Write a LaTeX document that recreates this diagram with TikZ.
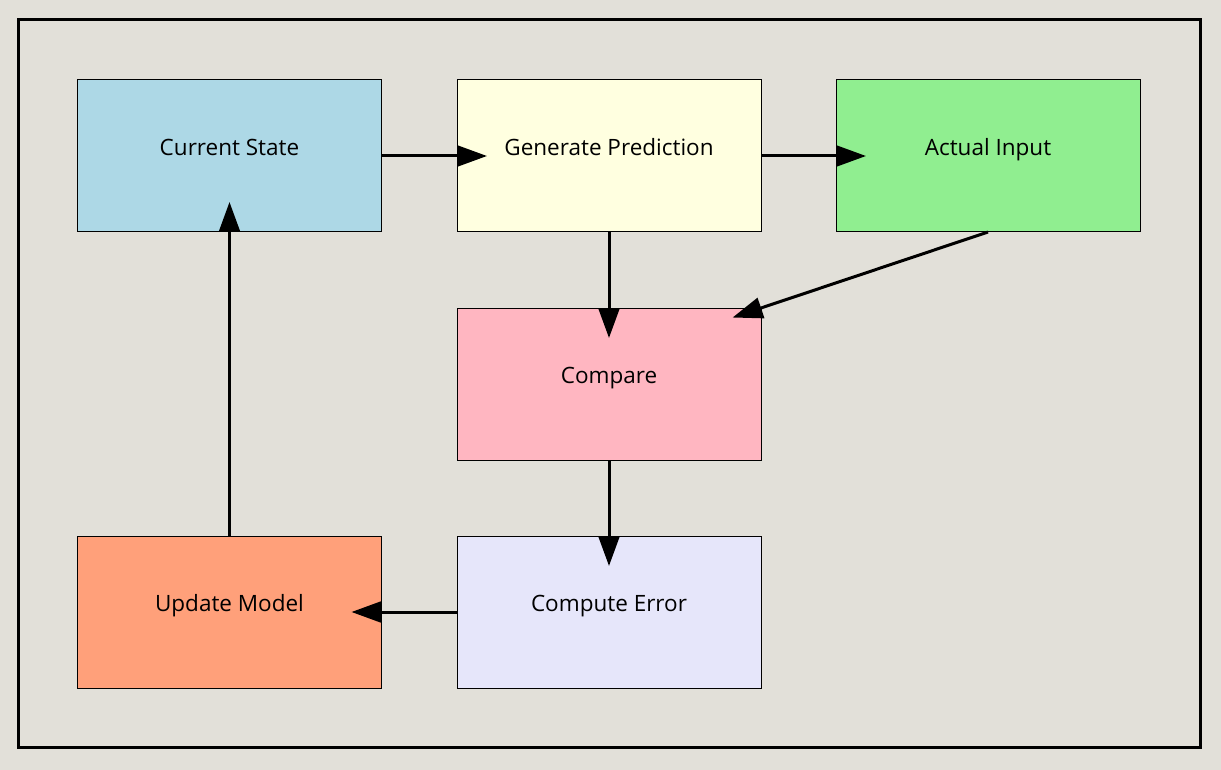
\documentclass[tikz,border=0pt]{standalone}
\usepackage{fontspec}
\setmainfont{Open Sans}
\usetikzlibrary{arrows.meta}
\definecolor{bg}{RGB}{226,224,217}
\definecolor{cstate}{HTML}{ADD8E6}
\definecolor{gpred}{HTML}{FFFFE0}
\definecolor{ainput}{HTML}{90EE90}
\definecolor{cmp}{HTML}{FFB6C1}
\definecolor{cerr}{HTML}{E6E6FA}
\definecolor{umodel}{HTML}{FFA07A}
\tikzset{
  box/.style={draw=black, line width=1pt, minimum width=304pt, minimum height=152pt, inner sep=0pt, outer sep=0pt},
  lbl/.style={font=\fontsize{22.5}{27}\selectfont, inner sep=0pt, anchor=base},
  conn/.style={line width=3pt, -{Triangle[length=30pt,width=21pt]}, shorten >=-30pt}
}
\begin{document}
\begin{tikzpicture}[x=1pt,y=-1pt]
\useasboundingbox (0,0) rectangle (1221,770);
\fill[bg] (0,0) rectangle (1221,770);
\draw[line width=3pt] (18,20) rectangle (1200,747);
\node[box, fill=cstate] (cs) at (229.5,156) {};
\node[box, fill=gpred] (gp) at (609,156) {};
\node[box, fill=ainput] (ai) at (988,156) {};
\node[box, fill=cmp] (cp) at (609,384) {};
\node[box, fill=cerr] (ce) at (609,612) {};
\node[box, fill=umodel] (um) at (229.5,612) {};
\node[lbl] (tcs) at ([yshift=0.5pt]cs.center) {Current State};
\node[lbl] (tgp) at ([yshift=0.5pt]gp.center) {Generate Prediction};
\node[lbl] (tai) at ([yshift=0.5pt]ai.center) {Actual Input};
\node[lbl] (tcp) at ([yshift=0.5pt]cp.center) {Compare};
\node[lbl] (tce) at ([yshift=0.5pt]ce.center) {Compute Error};
\node[lbl] (tum) at ([yshift=0.5pt]um.center) {Update Model};
\draw[conn] (cs.east) -- (gp.west);
\draw[conn] (gp.east) -- (ai.west);
\draw[conn] (gp.south) -- (cp.north);
\draw[conn] (ai.south) -- (cp.north east);
\draw[conn] (cp.south) -- (ce.north);
\draw[conn] (ce.west) -- (um.east);
\draw[conn] (um.north) -- (cs.south);
\end{tikzpicture}
\end{document}
